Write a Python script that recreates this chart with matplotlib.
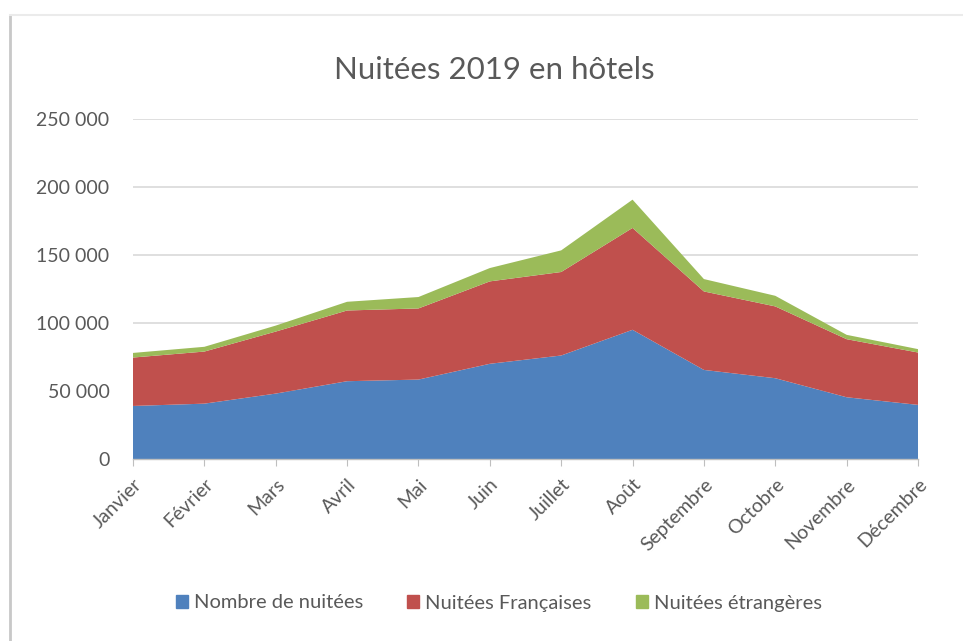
import matplotlib.pyplot as plt
from matplotlib.ticker import FuncFormatter
from matplotlib.lines import Line2D

# Monthly hotel nights, 2019
mois = ['Janvier', 'Février', 'Mars', 'Avril', 'Mai', 'Juin', 'Juillet',
        'Août', 'Septembre', 'Octobre', 'Novembre', 'Décembre']
nombre_nuitees = [39000, 40700, 48100, 57200, 58400, 70000, 76100,
                  95000, 65500, 59400, 45400, 39800]
nuitees_francaises = [35600, 38300, 45600, 52000, 52300, 60600, 61400,
                      74900, 57700, 52800, 42700, 38500]
nuitees_etrangeres = [3400, 3500, 4400, 6400, 8400, 9800, 15900,
                      20800, 9100, 7800, 3200, 2500]

series_labels = ['Nombre de nuitées', 'Nuitées Françaises', 'Nuitées étrangères']
colors = ['#4F81BD', '#C0504D', '#9BBB59']
text_color = '#595959'

plt.rcParams['font.family'] = ['Lato', 'DejaVu Sans']

fig = plt.figure(figsize=(9.63, 6.41), dpi=100)
ax = fig.add_axes([133 / 963, 1 - 459 / 641, (918 - 133) / 963, (459 - 119) / 641])

x = list(range(len(mois)))
ax.stackplot(x, nombre_nuitees, nuitees_francaises, nuitees_etrangeres,
             colors=colors, labels=series_labels, zorder=2)

ax.set_xlim(0, len(mois) - 1)
ax.set_ylim(0, 250000)
ax.set_yticks(range(0, 250001, 50000))
ax.yaxis.set_major_formatter(FuncFormatter(lambda v, p: f'{int(v):,}'.replace(',', ' ')))
ax.grid(axis='y', color='#D9D9D9', linewidth=1.2, zorder=0)
ax.set_axisbelow(True)

for s in ['top', 'right', 'left']:
    ax.spines[s].set_visible(False)
ax.spines['bottom'].set_color('#BFBFBF')
ax.spines['bottom'].set_linewidth(1.0)
ax.spines['bottom'].set_zorder(3)

ax.set_xticks(x)
ax.set_xticklabels(mois, rotation=45, ha='right', rotation_mode='anchor',
                   fontsize=14, color=text_color)
ax.tick_params(axis='x', length=5, color='#BFBFBF', pad=7)
ax.tick_params(axis='y', length=0, labelsize=14, labelcolor=text_color, pad=17)

fig.text(494 / 963, 1 - 70 / 641, 'Nuitées 2019 en hôtels', ha='center', va='center',
         fontsize=22.5, color=text_color)

handles = [plt.Rectangle((0, 0), 1, 1, color=c) for c in colors]
fig.legend(handles, series_labels, loc='center', bbox_to_anchor=(0.518, 1 - 603 / 641),
           ncol=3, frameon=False, fontsize=14.5, labelcolor=text_color,
           handlelength=0.6, handleheight=0.6, handletextpad=0.3, columnspacing=2.2)

# panel edge like the screenshot
fig.add_artist(Line2D([10 / 963, 10 / 963], [0, 1 - 15 / 641], color='#C8C8C8',
                      linewidth=2, transform=fig.transFigure))
fig.add_artist(Line2D([10 / 963, 1], [1 - 15 / 641, 1 - 15 / 641], color='#EBEBEB',
                      linewidth=1.5, transform=fig.transFigure))

fig.savefig('out.png', dpi=100)
